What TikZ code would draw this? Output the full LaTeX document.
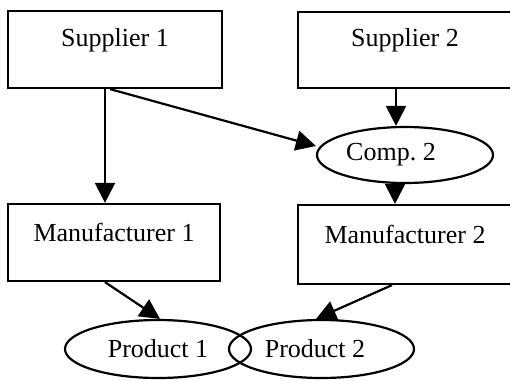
\documentclass[tikz,border=0pt]{standalone}
\usepackage{fontspec}
\setmainfont{Liberation Serif}
\usetikzlibrary{arrows.meta,shapes.geometric}
\begin{document}
\begin{tikzpicture}[x=0.5pt,y=-0.5pt,
  every node/.style={font=\fontsize{13}{15}\selectfont},
  box/.style={draw,line width=1.1pt,rectangle,inner sep=0pt,text height=9pt},
  oval/.style={draw,line width=1.1pt,ellipse,inner sep=0pt},
  arr/.style={line width=1.1pt,-{Triangle[length=10pt,width=10pt]}}]
\useasboundingbox (0,0) rectangle (510,381);
\node[box,minimum width=107pt,minimum height=38.5pt,text depth=12.4pt] (s1) at (115,49.5) {Supplier 1};
\node[box,minimum width=107pt,minimum height=38pt,text depth=12.4pt] (s2) at (405,50) {Supplier 2};
\node[box,minimum width=106pt,minimum height=38.5pt,text depth=10pt] (m1) at (114,242.5) {Manufacturer 1};
\node[box,minimum width=107pt,minimum height=39.5pt,text depth=10pt] (m2) at (405,244.5) {Manufacturer 2};
\node[oval,minimum width=88pt,minimum height=28pt] (c2) at (405,155) {Comp.\ 2\hspace*{14pt}};
\node[oval,minimum width=93pt,minimum height=29pt] (p1) at (158,349) {Product 1};
\node[oval,minimum width=92.5pt,minimum height=29pt] (p2) at (321.5,349) {Product 2\hspace*{6.5pt}};
\draw[arr] ([xshift=-5pt]s1.south) -- ([xshift=-5pt]s1.south |- m1.north);
\draw[arr] ([xshift=-2.5pt]s1.south) -- ([yshift=4.5pt]c2.west);
\draw[arr] ([xshift=-4.5pt]s2.south) -- ([xshift=-4.5pt]s2.south |- c2.north);
\draw[arr] ([xshift=-5pt]c2.south) -- ([xshift=-5pt]c2.south |- m2.north);
\draw[arr] ([xshift=-4.5pt]m1.south) -- ([xshift=1pt]p1.north);
\draw[arr] ([xshift=-6.5pt]m2.south) -- ([xshift=-2.75pt]p2.north);
\end{tikzpicture}
\end{document}
